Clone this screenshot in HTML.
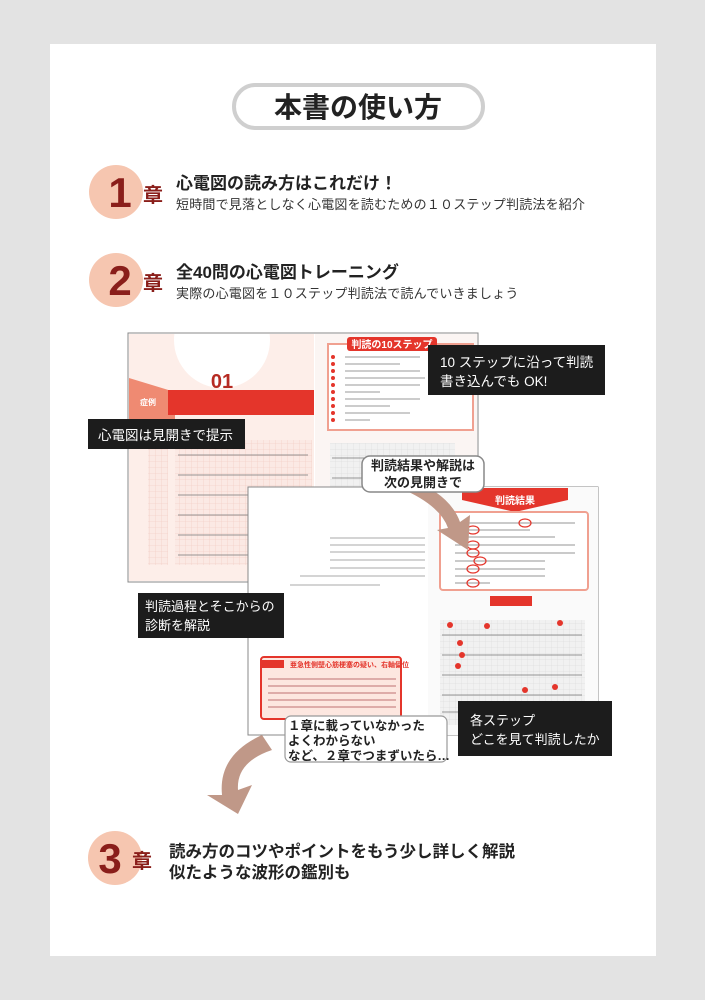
<!DOCTYPE html>
<html><head><meta charset="utf-8"><style>
html,body{margin:0;padding:0;background:#e3e3e3;}
svg{display:block}
text{font-family:"Liberation Sans","Noto Sans CJK JP",sans-serif;}
</style></head><body>
<svg width="705" height="1000" viewBox="0 0 705 1000" xmlns="http://www.w3.org/2000/svg">
<defs>
<pattern id="g" width="6" height="6" patternUnits="userSpaceOnUse"><rect width="6" height="6" fill="#fbe9e4"/><path d="M6 0V6H0" fill="none" stroke="#f2c8be" stroke-width="0.6"/></pattern>
<pattern id="g2" width="6" height="6" patternUnits="userSpaceOnUse"><rect width="6" height="6" fill="#f1f1f1"/><path d="M6 0V6H0" fill="none" stroke="#d8d8d8" stroke-width="0.6"/></pattern>
<clipPath id="lp"><rect x="129" y="334" width="185" height="247"/></clipPath>
</defs>
<rect x="0" y="0" width="705" height="1000" fill="#e3e3e3"/>
<rect x="50" y="44" width="606" height="912" fill="#fff"/>
<!-- title -->
<rect x="234" y="85" width="249" height="43" rx="21.5" fill="#fff" stroke="#cfcfcf" stroke-width="4"/>
<text x="358" y="117" font-size="28" text-anchor="middle" fill="#222" font-weight="bold">本書の使い方</text>
<!-- ch1 -->
<circle cx="116" cy="192" r="27" fill="#f6c6b0"/>
<text x="120" y="207" font-size="42" font-weight="bold" fill="#8a1e1a" text-anchor="middle">1</text>
<text x="143" y="202" font-size="20" font-weight="bold" fill="#8a1e1a">章</text>
<text x="176" y="189" font-size="17" font-weight="bold" fill="#222">心電図の読み方はこれだけ！</text>
<text x="176" y="209" font-size="13" fill="#333" letter-spacing="0.2">短時間で見落としなく心電図を読むための１０ステップ判読法を紹介</text>
<!-- ch2 -->
<circle cx="116" cy="280" r="27" fill="#f6c6b0"/>
<text x="120" y="295" font-size="42" font-weight="bold" fill="#8a1e1a" text-anchor="middle">2</text>
<text x="143" y="290" font-size="20" font-weight="bold" fill="#8a1e1a">章</text>
<text x="176" y="278" font-size="17" font-weight="bold" fill="#222">全40問の心電図トレーニング</text>
<text x="176" y="298" font-size="13" fill="#333" letter-spacing="0.2">実際の心電図を１０ステップ判読法で読んでいきましょう</text>
<!-- back spread -->
<rect x="128" y="333" width="350" height="249" fill="#fff" stroke="#888" stroke-width="1"/>
<rect x="129" y="334" width="185" height="247" fill="#fdeee9"/>
<rect x="315" y="334" width="162" height="247" fill="#fbf5f3"/>
<g clip-path="url(#lp)">
<circle cx="222" cy="340" r="48" fill="#fff"/>
<polygon points="129,378 175,392 175,425 150,425 129,425" fill="#ef8a72"/>
</g>
<text x="222" y="388" font-size="20" font-weight="bold" fill="#b62a22" text-anchor="middle">01</text>
<rect x="168" y="390" width="146" height="25" fill="#e4352b"/>
<text x="140" y="405" font-size="8" font-weight="bold" fill="#fff">症例</text>
<rect x="328" y="344" width="145" height="86" fill="#fff" stroke="#f0a090" stroke-width="2"/>
<rect x="347" y="337" width="90" height="14" rx="3" fill="#e4352b"/>
<text x="392" y="348" font-size="10" font-weight="bold" fill="#fff" text-anchor="middle">判読の10ステップ</text>
<g fill="#e4352b"><circle cx="333" cy="357" r="2"/><circle cx="333" cy="364" r="2"/><circle cx="333" cy="371" r="2"/><circle cx="333" cy="378" r="2"/><circle cx="333" cy="385" r="2"/><circle cx="333" cy="392" r="2"/><circle cx="333" cy="399" r="2"/><circle cx="333" cy="406" r="2"/><circle cx="333" cy="413" r="2"/><circle cx="333" cy="420" r="2"/></g>
<g stroke="#bbb" stroke-width="1.5"><line x1="345" y1="357" x2="420" y2="357"/><line x1="345" y1="364" x2="400" y2="364"/><line x1="345" y1="371" x2="420" y2="371"/><line x1="345" y1="378" x2="425" y2="378"/><line x1="345" y1="385" x2="420" y2="385"/><line x1="345" y1="392" x2="380" y2="392"/><line x1="345" y1="399" x2="420" y2="399"/><line x1="345" y1="406" x2="390" y2="406"/><line x1="345" y1="413" x2="410" y2="413"/><line x1="345" y1="420" x2="370" y2="420"/></g>
<rect x="175" y="440" width="137" height="125" fill="url(#g)"/>
<rect x="148" y="440" width="20" height="125" fill="url(#g)"/>
<rect x="330" y="443" width="125" height="120" fill="url(#g2)"/>
<g stroke="#777" stroke-width="0.7" fill="none">
<path d="M178 455h130M178 475h130M178 495h130M178 515h130M178 535h130M178 555h130"/>
<path d="M332 458h120M332 478h120M332 498h120M332 518h120"/>
</g>
<!-- page curl -->
<polygon points="287,580 478,470 478,485 350,540" fill="#d8d8d8" stroke="#666" stroke-width="1"/>
<polygon points="287,580 350,520 478,485" fill="#f4f4f4" stroke="#555" stroke-width="1"/>
<!-- front spread -->
<rect x="248" y="487" width="350" height="248" fill="#fff" stroke="#888"/>
<rect x="428" y="487" width="170" height="248" fill="#fafafa"/>
<polygon points="462,488 568,488 568,500 515,512 462,500" fill="#e4352b"/>
<text x="515" y="504" font-size="10" font-weight="bold" fill="#fff" text-anchor="middle">判読結果</text>
<rect x="440" y="512" width="148" height="78" rx="3" fill="#fff" stroke="#f0a090" stroke-width="2"/>
<g stroke="#aaa" stroke-width="1.2"><line x1="455" y1="523" x2="575" y2="523"/><line x1="455" y1="530" x2="530" y2="530"/><line x1="455" y1="537" x2="555" y2="537"/><line x1="455" y1="545" x2="575" y2="545"/><line x1="455" y1="553" x2="575" y2="553"/><line x1="455" y1="561" x2="545" y2="561"/><line x1="455" y1="569" x2="545" y2="569"/><line x1="455" y1="576" x2="545" y2="576"/><line x1="455" y1="583" x2="490" y2="583"/></g>
<g fill="none" stroke="#e4352b" stroke-width="1.2"><ellipse cx="473" cy="530" rx="6" ry="4"/><ellipse cx="473" cy="545" rx="6" ry="4"/><ellipse cx="473" cy="553" rx="6" ry="4"/><ellipse cx="473" cy="569" rx="6" ry="4"/><ellipse cx="480" cy="561" rx="6" ry="4"/><ellipse cx="473" cy="583" rx="6" ry="4"/><ellipse cx="525" cy="523" rx="6" ry="4"/></g>
<rect x="490" y="596" width="42" height="10" fill="#e4352b"/>
<rect x="440" y="620" width="145" height="105" fill="url(#g2)"/>
<g stroke="#777" stroke-width="0.7" fill="none"><path d="M442 635h140M442 655h140M442 675h140M442 695h140M442 712h140"/></g>
<g fill="#e4352b"><circle cx="450" cy="625" r="3"/><circle cx="487" cy="626" r="3"/><circle cx="560" cy="623" r="3"/><circle cx="460" cy="643" r="3"/><circle cx="462" cy="655" r="3"/><circle cx="458" cy="666" r="3"/><circle cx="525" cy="690" r="3"/><circle cx="555" cy="687" r="3"/></g>
<rect x="261" y="657" width="140" height="62" rx="3" fill="#fde7e0" stroke="#e4352b" stroke-width="2"/>
<rect x="262" y="660" width="22" height="8" fill="#e4352b"/>
<text x="290" y="667" font-size="7" fill="#e4352b" font-weight="bold">亜急性側壁心筋梗塞の疑い、右軸偏位</text>
<g stroke="#c88" stroke-width="1.2"><line x1="268" y1="679" x2="396" y2="679"/><line x1="268" y1="686" x2="396" y2="686"/><line x1="268" y1="693" x2="396" y2="693"/><line x1="268" y1="700" x2="396" y2="700"/><line x1="268" y1="707" x2="396" y2="707"/></g>
<g stroke="#bbb" stroke-width="1.2"><line x1="330" y1="538" x2="425" y2="538"/><line x1="330" y1="545" x2="425" y2="545"/><line x1="330" y1="552" x2="425" y2="552"/><line x1="330" y1="560" x2="425" y2="560"/><line x1="330" y1="568" x2="425" y2="568"/><line x1="300" y1="576" x2="425" y2="576"/><line x1="290" y1="585" x2="380" y2="585"/></g>
<!-- arrows -->
<path d="M400 488 Q440 505 448 528 L437 530 L468 550 L470 515 L460 522 Q450 494 408 478 Z" fill="#c09888"/>
<path d="M262 735 Q218 755 222 795 L207 795 L238 814 L252 785 L238 790 Q236 762 272 750 Z" fill="#c09888"/>
<!-- white bubbles -->
<g font-size="13" font-weight="bold" fill="#222">
<rect x="362" y="456" width="122" height="36" rx="8" fill="#fff" stroke="#888" stroke-width="1.5"/>
<text x="423" y="470" text-anchor="middle">判読結果や解説は</text>
<text x="423" y="487" text-anchor="middle">次の見開きで</text>
<rect x="285" y="716" width="162" height="46" rx="6" fill="#fff" stroke="#999" stroke-width="1.2"/>
<text x="288" y="730" font-size="12.5">１章に載っていなかった</text>
<text x="288" y="745" font-size="12.5">よくわからない</text>
<text x="288" y="760" font-size="12.5">など、２章でつまずいたら…</text>
</g>
<!-- black boxes -->
<g font-size="13.5" fill="#fff">
<rect x="428" y="345" width="177" height="50" fill="#1c1c1c"/>
<text x="440" y="367">10 ステップに沿って判読</text>
<text x="440" y="386">書き込んでも OK!</text>
<rect x="88" y="419" width="157" height="30" fill="#1c1c1c"/>
<text x="98" y="440">心電図は見開きで提示</text>
<rect x="138" y="593" width="146" height="45" fill="#1c1c1c"/>
<text x="145" y="611" font-size="13">判読過程とそこからの</text>
<text x="145" y="630" font-size="13">診断を解説</text>
<rect x="458" y="701" width="154" height="55" fill="#1c1c1c"/>
<text x="470" y="725" font-size="13">各ステップ</text>
<text x="470" y="744" font-size="13">どこを見て判読したか</text>
</g>
<!-- ch3 -->
<circle cx="115" cy="858" r="27" fill="#f6c6b0"/>
<text x="110" y="873" font-size="42" font-weight="bold" fill="#8a1e1a" text-anchor="middle">3</text>
<text x="132" y="868" font-size="20" font-weight="bold" fill="#8a1e1a">章</text>
<text x="169" y="857" font-size="16.5" font-weight="bold" fill="#222">読み方のコツやポイントをもう少し詳しく解説</text>
<text x="169" y="878" font-size="16.5" font-weight="bold" fill="#222">似たような波形の鑑別も</text>
</svg>
</body></html>
